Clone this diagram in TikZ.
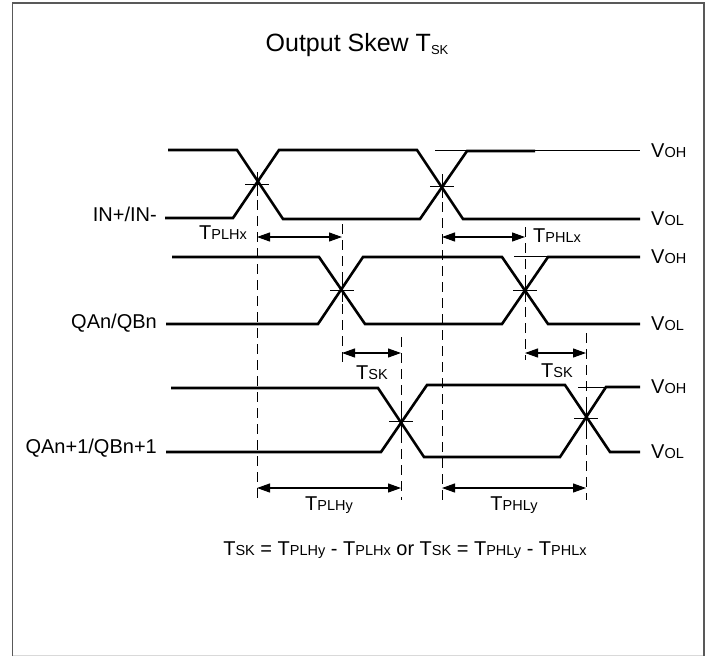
\documentclass[tikz,border=0pt]{standalone}
\usepackage{fontspec}
\setmainfont{Liberation Sans}
\usepackage{tikz}
\usetikzlibrary{arrows.meta}

\newcommand{\tlabel}[2]{#1{\fontsize{14.5}{15}\selectfont #2}}

\begin{document}
\begin{tikzpicture}[x=1pt, y=-1pt,
    sig/.style={line width=2.6pt, line join=miter},
    thin/.style={line width=0.9pt},
    guide/.style={line width=1pt, dash pattern=on 10pt off 6pt},
    span/.style={line width=1.1pt, {Triangle[length=13pt,width=9pt]}-{Triangle[length=13pt,width=9pt]}},
    lbl/.style={font=\fontsize{20}{22}\selectfont, inner sep=0pt}]
        \useasboundingbox (0,0) rectangle (711,656);
        \draw [gray!30, line width=1pt]            (12.5,655) -- (704,655);
        \draw [gray!70!black, line width=1.6pt]    (12.5,656) -- (12.5,3) -- (704,3) -- (704,656);

        \node [lbl] (title) at (357,45) {\fontsize{25}{28}\selectfont Output Skew T\raisebox{-3pt}{\fontsize{13}{13}\selectfont SK}};

        % crossing points
        \coordinate (cA) at (257,184);
        \coordinate (cB) at (442,186);
        \coordinate (cC) at (342,290);
        \coordinate (cD) at (525,290);
        \coordinate (cE) at (401,421);
        \coordinate (cF) at (586,418);

        % IN+/IN-
        \node [lbl, anchor=east] (inp) at (157,214) {IN+/IN-};
        \draw [thin]  (435,150) -- (640,150);
        \draw [sig]   (168,150) -- (237,150) -- (283,219) -- (420,219) -- (467,151) -- (535,151);
        \draw [sig]   (165,218) -- (233,218) -- (279,150) -- (417,150) -- (463,219) -- (640,219);

        % QAn/QBn
        \node [lbl, anchor=east] (qan) at (157,323) {QAn/QBn};
        \draw [thin]  (514,256) -- (548,256);
        \draw [sig]   (172,257) -- (319,257) -- (365,324) -- (502,324) -- (548,257) -- (640,257);
        \draw [sig]   (166,324) -- (318,324) -- (363,257) -- (502,257) -- (548,324) -- (640,324);

        % QAn+1/QBn+1
        \node [lbl, anchor=east] (qan1) at (157,448) {QAn+1/QBn+1};
        \draw [thin]  (578,387) -- (606,387);
        \draw [sig]   (171,388) -- (378,388) -- (424,457) -- (560,457) -- (606,387) -- (640,387);
        \draw [sig]   (166,452) -- (381,452) -- (427,385) -- (565,385) -- (610,452) -- (640,452);

        % levels
        \node [lbl, anchor=west] (voh1) at (651,151) {\tlabel{V}{OH}};
        \node [lbl, anchor=west] (vol1) at (651,219) {\tlabel{V}{OL}};
        \node [lbl, anchor=west] (voh2) at (651,257) {\tlabel{V}{OH}};
        \node [lbl, anchor=west] (vol2) at (651,324) {\tlabel{V}{OL}};
        \node [lbl, anchor=west] (voh3) at (651,387) {\tlabel{V}{OH}};
        \node [lbl, anchor=west] (vol3) at (651,452) {\tlabel{V}{OL}};

        \foreach \c in {cA,cB,cC,cD,cE,cF}
          \draw [thin] (\c) ++(-12,0) -- ++(24,0) (\c) ++(0,-12) -- ++(0,24);

        % guide lines
        \draw [guide] (cA) -- (cA |- 0,500);
        \draw [guide] (cC |- 0,224) -- (cC |- 0,365);
        \draw [guide] (cE |- 0,337) -- (cE |- 0,500);
        \draw [guide] (cB) -- (cB |- 0,500);
        \draw [guide] (cD |- 0,227) -- (cD |- 0,360);
        \draw [guide] (cF |- 0,333) -- (cF |- 0,500);

        % spans
        \draw [span] (cA |- 0,237) -- (cC |- 0,237);
        \draw [span] (cB |- 0,237) -- (cD |- 0,237);
        \draw [span] (cC |- 0,353) -- (cE |- 0,353);
        \draw [span] (cD |- 0,353) -- (cF |- 0,353);
        \draw [span] (cA |- 0,488) -- (cE |- 0,488);
        \draw [span] (cB |- 0,488) -- (cF |- 0,488);

        \node [lbl, anchor=east] (tplhx) at (247,233) {\tlabel{T}{PLHx}};
        \node [lbl, anchor=west] (tphlx) at (533,236) {\tlabel{T}{PHLx}};
        \node [lbl] (tsk1) at (372,373) {\tlabel{T}{SK}};
        \node [lbl] (tsk2) at (557,371) {\tlabel{T}{SK}};
        \node [lbl] (tplhy) at (329,505) {\tlabel{T}{PLHy}};
        \node [lbl] (tphly) at (514,505) {\tlabel{T}{PHLy}};

        \node [lbl] (eq) at (405,550) {\tlabel{T}{SK} = \tlabel{T}{PLHy} - \tlabel{T}{PLHx} or \tlabel{T}{SK} = \tlabel{T}{PHLy} - \tlabel{T}{PHLx}};
\end{tikzpicture}
\end{document}
